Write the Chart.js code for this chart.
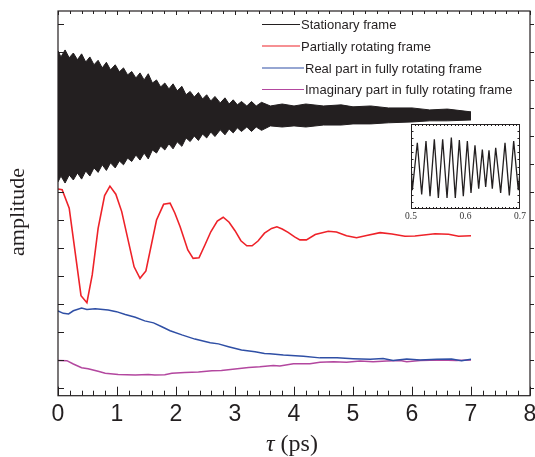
<!DOCTYPE html>
<html>
<head>
<meta charset="utf-8">
<script src="https://cdn.jsdelivr.net/npm/chart.js@4.4.1/dist/chart.umd.min.js"></script>
<style>
  html, body { margin: 0; padding: 0; background: #fff; }
  #wrap { position: relative; width: 535px; height: 457px; }
  #main { position: absolute; left: 0; top: 0; }
  #inset { position: absolute; left: 400px; top: 114px; }
</style>
</head>
<body>
<div id="wrap">
  <canvas id="main" width="535" height="457"></canvas>
  <canvas id="inset" width="130" height="112"></canvas>
</div>
<script>
// --- DATA ---
const seriesNames = [
  "Stationary frame",
  "Partially rotating frame",
  "Real part in fully rotating frame",
  "Imaginary part in fully rotating frame"
];
const xTicks = [0, 1, 2, 3, 4, 5, 6, 7, 8];
const yTicks = [0, 1, 2, 3, 4, 5, 6, 7, 8, 9, 10, 11, 12, 13];
const insetTicks = [0.5, 0.6, 0.7];

// stationary frame: upper / lower edge of the fast oscillation band
const blackTime = [0, 0.05, 0.12, 0.19, 0.26, 0.33, 0.40, 0.47, 0.54, 0.61, 0.68, 0.75, 0.82, 0.89, 0.97, 1.04,
  1.11, 1.18, 1.25, 1.32, 1.39, 1.46, 1.53, 1.60, 1.67, 1.74, 1.81, 1.88, 1.95, 2.02, 2.10, 2.17, 2.24, 2.31,
  2.38, 2.45, 2.52, 2.59, 2.66, 2.75, 2.83, 2.90, 2.97, 3.04, 3.11, 3.20, 3.28, 3.36, 3.45,
  3.60, 3.80, 4.00, 4.20, 4.50, 4.80, 5.00, 5.30, 5.60, 6.00, 6.30, 6.60, 7.00];
const blackUpper = [12.05, 11.83, 12.08, 11.80, 11.97, 11.73, 11.94, 11.65, 11.83, 11.55, 11.71, 11.44, 11.64,
  11.37, 11.55, 11.30, 11.44, 11.19, 11.31, 11.08, 11.26, 11.01, 11.23, 10.90, 11.01, 10.76, 10.90, 10.69, 10.87,
  10.62, 10.78, 10.48, 10.60, 10.40, 10.56, 10.33, 10.48, 10.26, 10.42, 10.19, 10.37, 10.15, 10.30, 10.12, 10.24,
  10.08, 10.24, 10.08, 10.21,
  10.08, 10.15, 10.08, 10.15, 10.08, 10.12, 10.05, 10.08, 10.01, 10.01, 9.94, 9.97, 9.87];
const blackLower = [7.37, 7.58, 7.33, 7.62, 7.44, 7.69, 7.47, 7.76, 7.58, 7.87, 7.71, 7.98, 7.78, 8.05, 7.87,
  8.12, 7.98, 8.22, 8.10, 8.33, 8.15, 8.40, 8.19, 8.51, 8.40, 8.65, 8.51, 8.73, 8.55, 8.80, 8.64, 8.94, 8.81,
  9.01, 8.85, 9.08, 8.94, 9.15, 8.99, 9.23, 9.05, 9.26, 9.12, 9.30, 9.17, 9.33, 9.17, 9.33, 9.21,
  9.37, 9.33, 9.37, 9.33, 9.40, 9.40, 9.44, 9.44, 9.48, 9.51, 9.55, 9.55, 9.58];

const redTime = [0, 0.07, 0.19, 0.39, 0.49, 0.58, 0.68, 0.79, 0.88, 0.98, 1.08, 1.29, 1.39, 1.49, 1.67, 1.79,
  1.90, 1.98, 2.07, 2.20, 2.29, 2.39, 2.49, 2.59, 2.70, 2.80, 2.90, 3.00, 3.10, 3.20, 3.29, 3.39, 3.50, 3.62,
  3.71, 3.80, 3.90, 4.01, 4.10, 4.21, 4.36, 4.58, 4.72, 4.89, 5.06, 5.23, 5.46, 5.66, 5.88, 6.05, 6.39, 6.62,
  6.79, 7.00];
const redValue = [7.12, 7.09, 6.43, 3.31, 3.06, 4.05, 5.71, 6.88, 7.22, 6.93, 6.31, 4.34, 3.93, 4.19, 6.01, 6.57,
  6.61, 6.26, 5.77, 4.94, 4.64, 4.66, 5.12, 5.59, 5.97, 6.11, 5.93, 5.63, 5.27, 5.09, 5.09, 5.26, 5.54, 5.71,
  5.77, 5.69, 5.57, 5.41, 5.30, 5.30, 5.49, 5.61, 5.58, 5.45, 5.38, 5.46, 5.56, 5.51, 5.43, 5.44, 5.52, 5.50,
  5.43, 5.45];

const blueTime = [0, 0.09, 0.18, 0.26, 0.40, 0.49, 0.63, 0.85, 0.99, 1.14, 1.31, 1.47, 1.62, 1.76, 1.90, 2.10,
  2.32, 2.58, 2.72, 2.89, 3.11, 3.34, 3.50, 3.59, 3.82, 4.16, 4.44, 4.73, 5.00, 5.29, 5.51, 5.68, 5.91, 6.14,
  6.42, 6.67, 6.84, 7.00];
const blueValue = [2.77, 2.68, 2.66, 2.77, 2.87, 2.82, 2.84, 2.80, 2.74, 2.64, 2.54, 2.41, 2.34, 2.20, 2.06, 1.91,
  1.76, 1.63, 1.59, 1.49, 1.37, 1.31, 1.25, 1.24, 1.19, 1.15, 1.09, 1.09, 1.06, 1.04, 1.07, 1.00, 1.05, 1.01,
  1.04, 1.05, 0.99, 1.04];

const purpleTime = [0, 0.15, 0.26, 0.40, 0.51, 0.68, 0.80, 1.02, 1.31, 1.53, 1.64, 1.81, 1.93, 2.15, 2.38, 2.61,
  2.77, 3.00, 3.23, 3.42, 3.65, 3.76, 3.99, 4.27, 4.44, 4.67, 4.89, 5.12, 5.34, 5.57, 5.80, 5.91, 6.14, 6.47,
  6.75, 7.00];
const purpleValue = [1.00, 0.99, 0.87, 0.74, 0.70, 0.61, 0.54, 0.50, 0.48, 0.50, 0.48, 0.49, 0.54, 0.57, 0.59, 0.63,
  0.64, 0.69, 0.75, 0.77, 0.82, 0.80, 0.88, 0.88, 0.93, 0.95, 0.93, 0.98, 0.95, 0.98, 1.00, 0.95, 1.00, 1.01,
  1.00, 1.01];

// inset: stationary frame between 0.5 and 0.7 ps
const insetTime = [0.5000, 0.5024, 0.5116, 0.5196, 0.5275, 0.5349, 0.5428, 0.5502, 0.5581, 0.5661, 0.5740,
  0.5813, 0.5887, 0.5960, 0.6034, 0.6101, 0.6174, 0.6242, 0.6309, 0.6370, 0.6431, 0.6492, 0.6554, 0.6645,
  0.6725, 0.6804, 0.6884, 0.6969, 0.7000];
const insetValue = [0.55, 0.22, 0.78, 0.17, 0.80, 0.15, 0.82, 0.13, 0.82, 0.13, 0.84, 0.13, 0.81, 0.15, 0.80,
  0.19, 0.75, 0.24, 0.70, 0.26, 0.69, 0.24, 0.72, 0.19, 0.78, 0.16, 0.80, 0.22, 0.45];

// --- STYLE ---
const ink = "#231f20";
const colors = [ink, "#ee2229", "#2f4fa5", "#b3479f"];
const sans = '"Liberation Sans", Arial, sans-serif';
const serif = '"Liberation Serif", "Times New Roman", serif';

function pts(xs, ys) {
  return xs.map((x, i) => ({ x: x, y: ys[i] }));
}

// --- MAIN CHART DECORATION: frame, inward ticks, legend, titles ---
const mainDecor = {
  id: "mainDecor",
  afterDraw(chart) {
    const { ctx, chartArea: a, scales: { x, y } } = chart;
    ctx.save();
    ctx.strokeStyle = ink;
    ctx.lineWidth = 1.2;
    ctx.strokeRect(a.left, a.top, a.right - a.left, a.bottom - a.top);

    ctx.lineWidth = 1;
    ctx.beginPath();
    for (let i = 0; i <= 40; i++) {
      const px = Math.round(x.getPixelForValue(i / 5)) + 0.5;
      const major = i % 5 === 0;
      ctx.moveTo(px, a.bottom);
      ctx.lineTo(px, a.bottom - (major ? 9 : 5));
      ctx.moveTo(px, a.top);
      ctx.lineTo(px, a.top + (major ? 4 : 3));
    }
    yTicks.forEach(v => {
      const py = Math.round(y.getPixelForValue(v)) + 0.5;
      ctx.moveTo(a.left, py);
      ctx.lineTo(a.left + 6, py);
      ctx.moveTo(a.right, py);
      ctx.lineTo(a.right + 4, py);
    });
    ctx.stroke();

    // legend
    const rows = [24.5, 46, 68, 89.5];
    const textX = [301, 301, 305, 305];
    ctx.font = "13px " + sans;
    ctx.textBaseline = "middle";
    ctx.textAlign = "left";
    seriesNames.forEach((name, i) => {
      ctx.strokeStyle = colors[i];
      ctx.lineWidth = 1.2;
      ctx.beginPath();
      ctx.moveTo(262, rows[i]);
      ctx.lineTo(textX[i] - 1, rows[i]);
      ctx.stroke();
      ctx.fillStyle = ink;
      ctx.fillText(name, textX[i], rows[i] + 1);
    });

    // axis titles
    ctx.fillStyle = ink;
    ctx.textBaseline = "alphabetic";
    ctx.save();
    ctx.translate(24, 212);
    ctx.rotate(-Math.PI / 2);
    ctx.textAlign = "center";
    ctx.font = "22px " + serif;
    ctx.fillText("amplitude", 0, 0);
    ctx.restore();

    ctx.textAlign = "left";
    ctx.font = "italic 24px " + serif;
    let tx = 266;
    ctx.fillText("\u03c4", tx, 451);
    tx += ctx.measureText("\u03c4").width;
    ctx.font = "24px " + serif;
    ctx.fillText(" (ps)", tx, 451);
    ctx.restore();
  }
};

new Chart(document.getElementById("main"), {
  type: "line",
  data: {
    datasets: [
      { label: seriesNames[0], data: pts(blackTime, blackUpper), borderColor: ink, borderWidth: 1, fill: false },
      { label: "lower", data: pts(blackTime, blackLower), borderColor: ink, borderWidth: 1, fill: "-1", backgroundColor: ink },
      { label: seriesNames[1], data: pts(redTime, redValue), borderColor: colors[1], borderWidth: 1.6, fill: false },
      { label: seriesNames[2], data: pts(blueTime, blueValue), borderColor: colors[2], borderWidth: 1.5, fill: false },
      { label: seriesNames[3], data: pts(purpleTime, purpleValue), borderColor: colors[3], borderWidth: 1.5, fill: false }
    ]
  },
  options: {
    responsive: false,
    animation: false,
    layout: { padding: { left: 58, right: 5, top: 11, bottom: 0 } },
    elements: { point: { radius: 0 }, line: { tension: 0 } },
    plugins: { legend: { display: false }, tooltip: { enabled: false } },
    scales: {
      x: {
        type: "linear",
        min: 0,
        max: 8,
        afterBuildTicks: s => { s.ticks = xTicks.map(v => ({ value: v })); },
        afterFit: s => { s.height = 61.3; s.paddingLeft = 0; s.paddingRight = 0; },
        grid: { display: false, drawTicks: false },
        border: { display: false },
        ticks: {
          font: { family: sans, size: 23 },
          color: ink,
          padding: 5,
          maxRotation: 0,
          autoSkip: false
        }
      },
      y: { type: "linear", min: -0.26, max: 13.47, display: false }
    }
  },
  plugins: [mainDecor]
});

// --- INSET ---
const insetDecor = {
  id: "insetDecor",
  afterDraw(chart) {
    const { ctx, chartArea: a, scales: { x, y } } = chart;
    ctx.save();
    ctx.strokeStyle = ink;
    ctx.lineWidth = 1;
    ctx.strokeRect(a.left + 0.5, a.top + 0.5, a.right - a.left - 1, a.bottom - a.top - 1);
    ctx.beginPath();
    for (let i = 1; i < 30; i++) {
      const px = Math.round(x.getPixelForValue(0.5 + i * 0.2 / 30)) + 0.5;
      ctx.moveTo(px, a.top);
      ctx.lineTo(px, a.top + 2);
      ctx.moveTo(px, a.bottom);
      ctx.lineTo(px, a.bottom - 2);
    }
    for (let i = 1; i < 12; i++) {
      const py = Math.round(y.getPixelForValue(i / 12)) + 0.5;
      ctx.moveTo(a.left, py);
      ctx.lineTo(a.left + 2.5, py);
      ctx.moveTo(a.right, py);
      ctx.lineTo(a.right - 2.5, py);
    }
    ctx.stroke();
    ctx.fillStyle = "#333";
    ctx.font = "9.5px " + serif;
    ctx.textAlign = "center";
    ctx.textBaseline = "alphabetic";
    insetTicks.forEach(v => {
      ctx.fillText(v.toFixed(1), x.getPixelForValue(v), a.bottom + 10);
    });
    ctx.restore();
  }
};

new Chart(document.getElementById("inset"), {
  type: "line",
  data: {
    datasets: [
      { data: pts(insetTime, insetValue), borderColor: ink, borderWidth: 1.3, fill: false }
    ]
  },
  options: {
    responsive: false,
    animation: false,
    layout: { padding: { left: 11, right: 10, top: 10, bottom: 17 } },
    elements: { point: { radius: 0 }, line: { tension: 0 } },
    plugins: { legend: { display: false }, tooltip: { enabled: false } },
    scales: {
      x: { type: "linear", min: 0.5, max: 0.7, display: false },
      y: { type: "linear", min: 0, max: 1, display: false }
    }
  },
  plugins: [insetDecor]
});
</script>
</body>
</html>
